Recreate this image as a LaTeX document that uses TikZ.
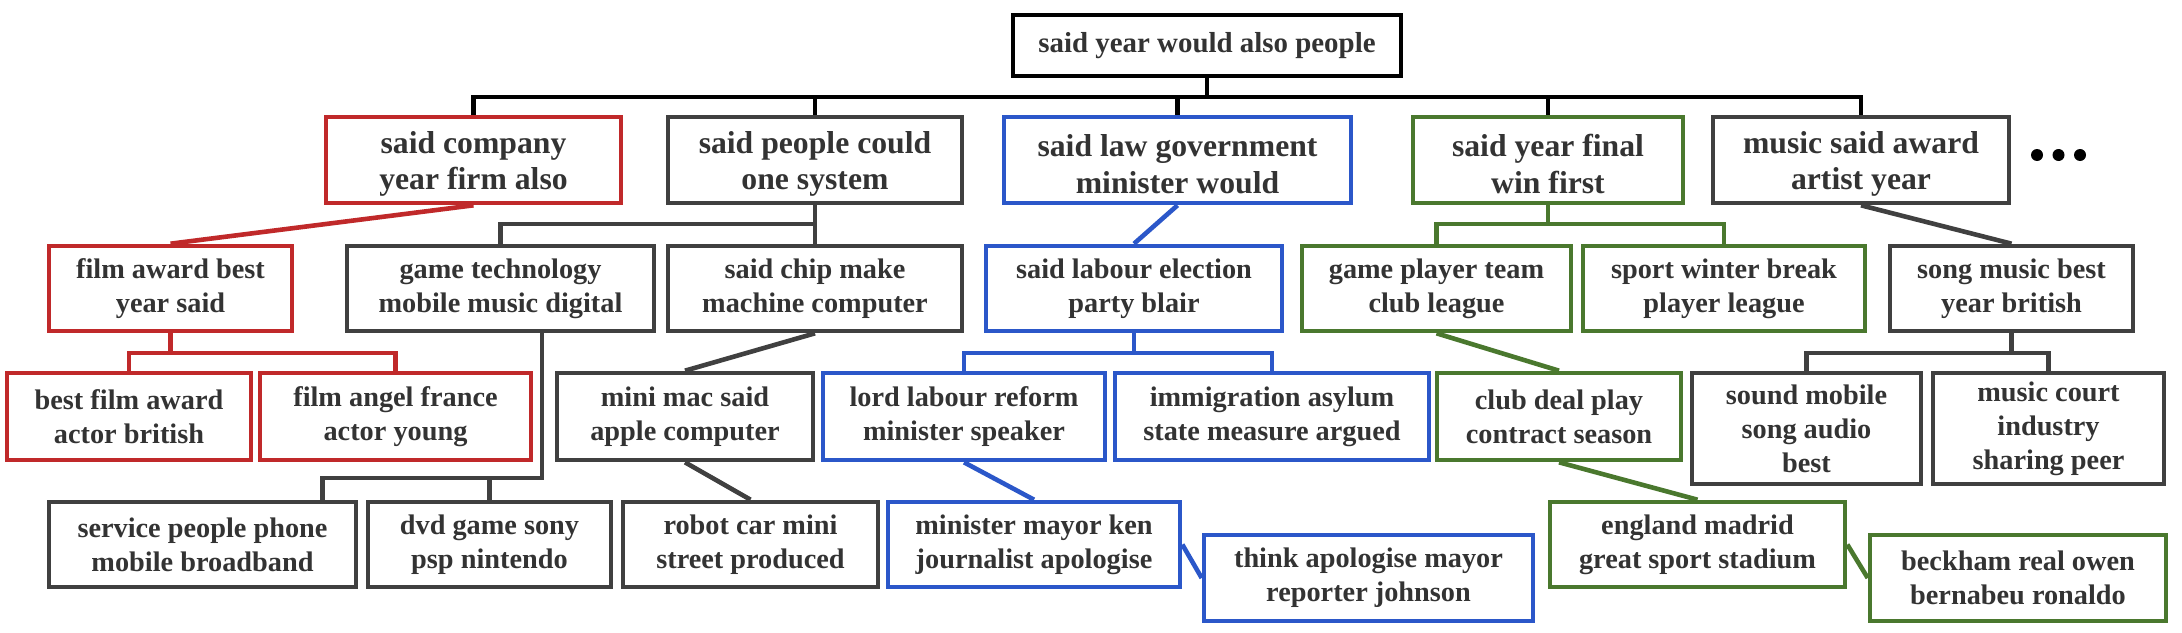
\documentclass[tikz,border=0pt]{standalone}
\usepackage{fontspec}
\setmainfont{Liberation Serif}
\definecolor{cred}{HTML}{C0292A}
\definecolor{cblue}{HTML}{2B57C9}
\definecolor{cgreen}{HTML}{4A782E}
\definecolor{cgray}{HTML}{404040}
\definecolor{ctext}{HTML}{333333}
\newcommand\myTopStrut{\rule{0pt}{14.9pt}}
\begin{document}
\begin{tikzpicture}[x=0.5pt,y=-0.5pt,
  box/.style={draw, line width=2.3pt, inner sep=0pt, align=center,
    font=\bfseries\fontsize{14.15pt}{17pt}\selectfont, text=ctext},
  big/.style={font=\bfseries\fontsize{15.85pt}{18.35pt}\selectfont},
  sz/.style n args={2}{minimum width=#1*0.5pt, minimum height=#2*0.5pt},
  kbox/.style={box, draw=black},
  rbox/.style={box, draw=cred},
  bbox/.style={box, draw=cblue},
  gbox/.style={box, draw=cgreen},
  ybox/.style={box, draw=cgray},
  kl/.style={draw=black, line width=2.3pt},
  rl/.style={draw=cred, line width=2.3pt},
  bl/.style={draw=cblue, line width=2.3pt},
  gl/.style={draw=cgreen, line width=2.3pt},
  yl/.style={draw=cgray, line width=2.3pt}]
\useasboundingbox (0,0) rectangle (2182,632);

% root
\node[kbox, sz={388}{61}, font=\bfseries\fontsize{14.45pt}{17pt}\selectfont] (root) at (1207,45.5) {said year would also people};

% level 1
\node[rbox, big, sz={295}{86}] (A) at (473.5,160) {\myTopStrut said company\\year firm also};
\node[ybox, big, sz={294}{86}] (B) at (815,160) {\myTopStrut said people could\\one system};
\node[bbox, big, sz={347}{86}] (C) at (1177.5,160) {\myTopStrut said law government\\minister would};
\node[gbox, big, sz={270}{86}] (D) at (1548,160) {\myTopStrut said year final\\win first};
\node[ybox, big, sz={296}{86}] (E) at (1861,160) {\myTopStrut music said award\\artist year};
\fill[black] (2037,155) circle (3pt) (2058.5,155) circle (3pt) (2080,155) circle (3pt);

% level 2
\node[rbox, sz={243}{85}] (A1) at (170.5,288.5) {film award best\\year said};
\node[ybox, sz={307}{85}] (B1) at (500.5,288.5) {game technology\\mobile music digital};
\node[ybox, sz={294}{85}] (B2) at (815,288.5) {said chip make\\machine computer};
\node[bbox, sz={296}{85}] (C1) at (1134,288.5) {said labour election\\party blair};
\node[gbox, sz={269}{85}] (D1) at (1436.5,288.5) {game player team\\club league};
\node[gbox, sz={282}{85}] (D2) at (1724,288.5) {sport winter break\\player league};
\node[ybox, sz={243}{85}] (E1) at (2011.5,288.5) {song music best\\year british};

% level 3
\node[rbox, sz={244}{87}] (A1a) at (129,416.5) {best film award\\actor british};
\node[rbox, sz={271}{87}] (A1b) at (395.5,416.5) {film angel france\\actor young};
\node[ybox, sz={256}{87}] (B2a) at (685,416.5) {mini mac said\\apple computer};
\node[bbox, sz={282}{87}] (C1a) at (964,416.5) {lord labour reform\\minister speaker};
\node[bbox, sz={314}{87}] (C1b) at (1272,416.5) {immigration asylum\\state measure argued};
\node[gbox, sz={244}{87}] (D1a) at (1559,416.5) {club deal play\\contract season};
\node[ybox, sz={229}{111}] (E1a) at (1806.5,428.5) {sound mobile\\song audio\\best};
\node[ybox, sz={231}{111}] (E1b) at (2048.5,428.5) {music court\\industry\\sharing peer};

% level 4
\node[ybox, sz={307}{85}] (B1a) at (202.5,544.5) {service people phone\\mobile broadband};
\node[ybox, sz={243}{85}] (B1b) at (489.5,544.5) {dvd game sony\\psp nintendo};
\node[ybox, sz={255}{85}] (B2b) at (750.5,544.5) {robot car mini\\street produced};
\node[bbox, sz={292}{85}] (C1c) at (1034,544.5) {minister mayor ken\\journalist apologise};
\node[gbox, sz={295}{85}] (D1b) at (1697.5,544.5) {england madrid\\great sport stadium};

% level 5
\node[bbox, sz={329}{86}] (C1d) at (1368.5,578) {think apologise mayor\\reporter johnson};
\node[gbox, sz={296}{86}] (D1c) at (2018,578) {beckham real owen\\bernabeu ronaldo};

% connectors: root
\coordinate (bus) at (1207,97);
\draw[kl] (root.south) -- (bus);
\draw[kl] (A.north) |- (bus) -| (E.north);
\draw[kl] (B.north) -- (B.north |- bus);
\draw[kl] (C.north) -- (C.north |- bus);
\draw[kl] (D.north) -- (D.north |- bus);

% red
\draw[rl] (A.south) -- (A1.north);
\coordinate (bA1) at (170.5,353);
\draw[rl] (A1.south) -- (bA1);
\draw[rl] (A1a.north) |- (bA1) -| (A1b.north);

% gray B
\coordinate (bB) at (815,224);
\draw[yl] (B.south) -- (B2.north);
\draw[yl] (B1.north) |- (bB);
\draw[yl] (B2.south) -- (B2a.north);
\draw[yl] (B2a.south) -- (B2b.north);
\coordinate (bB1) at (542,478);
\coordinate (kB1a) at (322.6,478);
\draw[yl] (B1.south -| bB1) -- (bB1) -- (kB1a) -- (kB1a |- B1a.north);
\draw[yl] (B1b.north) -- (B1b.north |- bB1);

% blue
\draw[bl] (C.south) -- (C1.north);
\coordinate (bC1) at (1134,353);
\draw[bl] (C1.south) -- (bC1);
\draw[bl] (C1a.north) |- (bC1) -| (C1b.north);
\draw[bl] (C1a.south) -- (C1c.north);
\draw[bl] (C1c.east) -- (C1d.west);

% green
\coordinate (bD) at (1548,224);
\draw[gl] (D.south) -- (bD);
\draw[gl] (D1.north) |- (bD) -| (D2.north);
\draw[gl] (D1.south) -- (D1a.north);
\draw[gl] (D1a.south) -- (D1b.north);
\draw[gl] (D1b.east) -- (D1c.west);

% gray E
\draw[yl] (E.south) -- (E1.north);
\coordinate (bE1) at (2011.5,353);
\draw[yl] (E1.south) -- (bE1);
\draw[yl] (E1a.north) |- (bE1) -| (E1b.north);
\end{tikzpicture}
\end{document}
